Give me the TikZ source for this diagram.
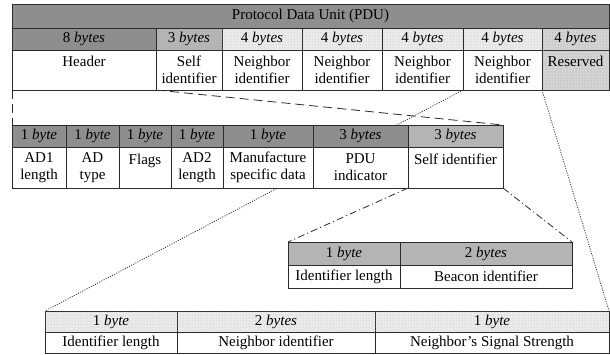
\documentclass[tikz,border=0pt]{standalone}
\usepackage{fontspec}
\setmainfont{Liberation Serif}
\usepackage{tikz}
\usetikzlibrary{patterns, backgrounds}
\usepackage{xcolor}
\definecolor{pDark}{HTML}{8E8E8E}
\definecolor{pMid}{HTML}{B4B4B4}
\definecolor{pLight}{HTML}{EBEBEB}
\definecolor{pRes}{HTML}{D4D4D4}
\definecolor{pInk}{HTML}{2B2B2B}
\newcommand{\by}[1]{#1 \textit{byte}}
\newcommand{\bys}[1]{#1 \textit{bytes}}

\begin{document}
\begin{tikzpicture}[x=1pt, y=-1pt, font=\fontsize{15}{17}\selectfont,
  cell/.style={draw=pInk, line width=0.8pt, rectangle, inner sep=0pt, outer sep=0pt,
    anchor=north west, align=center, fill=white},
  dk/.style={fill=pDark}, md/.style={fill=pMid}, wt/.style={fill=white},
  lt/.style={fill=pLight, postaction={pattern=dots, pattern color=gray!55}},
  rs/.style={fill=pRes, postaction={pattern=dots, pattern color=gray!75}},
  link/.style={draw=pInk, line width=0.8pt}]
  \useasboundingbox (0,0) rectangle (610,354);
  % the PDU
  \node[cell, dk, minimum width=597pt, minimum height=24pt] (pdu) at (12,4) {Protocol Data Unit (PDU)};
  \foreach \xa/\xb/\sty/\txt [count=\i] in {12/156/dk/{\bys8}, 156/222/md/{\bys3},
      222/302/lt/{\bys4}, 302/382/lt/{\bys4}, 382/463/lt/{\bys4}, 463/542/lt/{\bys4}, 542/609/rs/{\bys4}}
    \node[cell, \sty, minimum width={(\xb-\xa)*1pt}, minimum height=22pt] (pb\i) at (\xa,28) {\txt};
  \foreach \xa/\xb/\sty/\txt [count=\i] in {12/156/wt/{Header\\~}, 156/222/wt/{Self\\identifier},
      222/302/wt/{Neighbor\\identifier}, 302/382/wt/{Neighbor\\identifier}, 382/463/wt/{Neighbor\\identifier},
      463/542/wt/{Neighbor\\identifier}, 542/609/rs/{Reserved\\~}}
    \node[cell, \sty, minimum width={(\xb-\xa)*1pt}, minimum height=40pt] (pc\i) at (\xa,50) {\txt};
  % the header
  \foreach \xa/\xb/\sty/\txt [count=\i] in {12/66/dk/{\by1}, 66/119/dk/{\by1}, 119/171/dk/{\by1},
      171/223/dk/{\by1}, 223/313/dk/{\by1}, 313/408/dk/{\bys3}, 408/503/md/{\bys3}}
    \node[cell, \sty, minimum width={(\xb-\xa)*1pt}, minimum height=22pt] (ab\i) at (\xa,125) {\txt};
  \foreach \xa/\xb/\txt [count=\i] in {12/66/{AD1\\length}, 66/119/{AD\\type}, 119/171/{Flags\\~},
      171/223/{AD2\\length}, 223/313/{Manufacture\\specific data}, 313/408/{PDU\\indicator},
      408/503/{Self identifier\\~}}
    \node[cell, minimum width={(\xb-\xa)*1pt}, minimum height=41pt] (ac\i) at (\xa,147) {\txt};
  % self identifier
  \node[cell, md, minimum width=112pt, minimum height=23pt] (bb1) at (288,242) {\by1};
  \node[cell, md, minimum width=172pt, minimum height=23pt] (bb2) at (400,242) {\bys2};
  \node[cell, minimum width=112pt, minimum height=23pt] (bc1) at (288,265) {Identifier length};
  \node[cell, minimum width=172pt, minimum height=23pt] (bc2) at (400,265) {Beacon identifier};
  % neighbor identifier
  \foreach \xa/\xb/\txt [count=\i] in {45/177/{\by1}, 177/375/{\bys2}, 375/609/{\by1}}
    \node[cell, lt, minimum width={(\xb-\xa)*1pt}, minimum height=21pt] (nb\i) at (\xa,311) {\txt};
  \foreach \xa/\xb/\txt [count=\i] in {45/177/{Identifier length}, 177/375/{Neighbor identifier},
      375/609/{Neighbor’s Signal Strength}}
    \node[cell, minimum width={(\xb-\xa)*1pt}, minimum height=21pt] (nc\i) at (\xa,332) {\txt};
  \begin{scope}[on background layer]
    \draw[link, dash pattern=on 9pt off 5pt] (pc1.south west) -- (ab1.north west);
    \draw[link, dash pattern=on 9pt off 5pt] (pc1.south east) -- (ab7.north east);
    \draw[link, dash pattern=on 1pt off 1.4pt] (pc6.south west) -- (nb1.north west);
    \draw[link, dash pattern=on 1pt off 1.4pt] (pc6.south east) -- (nb3.north east);
    \draw[link, dash pattern=on 7pt off 3pt on 1.2pt off 3pt] (ac7.south west) -- (bb1.north west);
    \draw[link, dash pattern=on 7pt off 3pt on 1.2pt off 3pt] (ac7.south east) -- (bb2.north east);
  \end{scope}
\end{tikzpicture}
\end{document}
